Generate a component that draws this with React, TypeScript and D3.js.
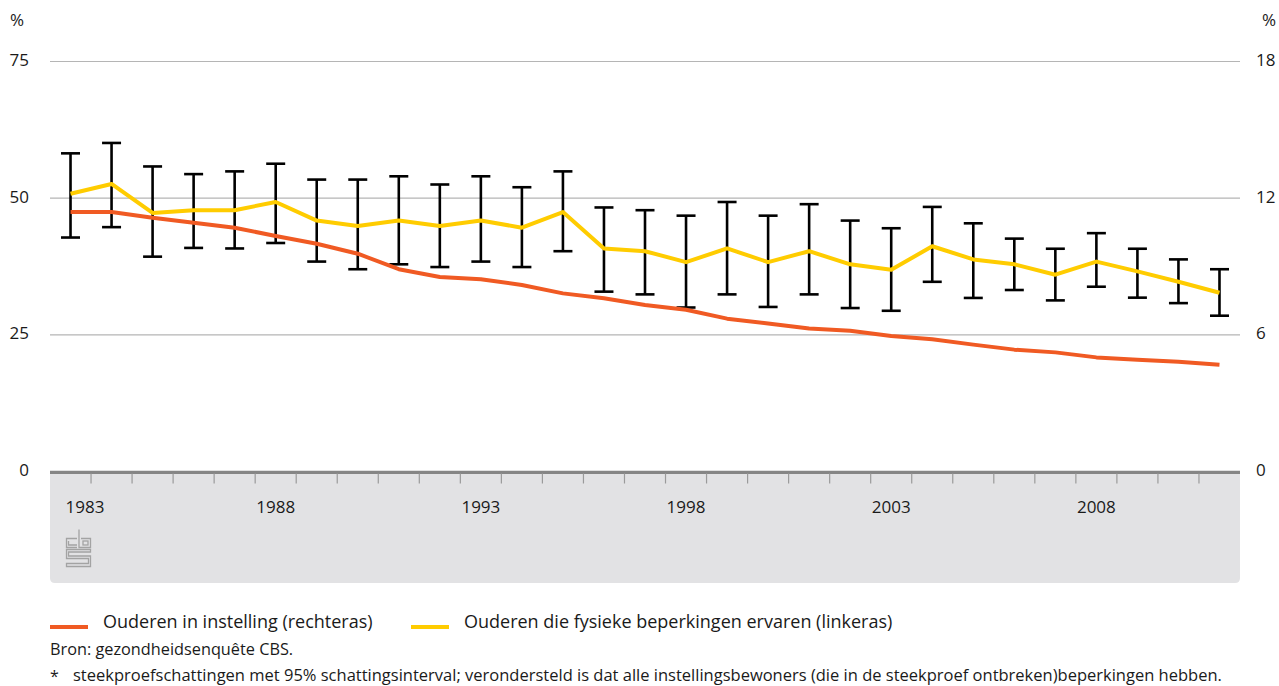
import React from "react";
import * as d3 from "d3";

const years = d3.range(1983, 2012);
const yearLabels = [1983, 1988, 1993, 1998, 2003, 2008];
const leftTicks = [0, 25, 50, 75];
const rightTicks = [0, 6, 12, 18];

// Ouderen die fysieke beperkingen ervaren (linkeras), %
const limited = [50.8, 52.6, 47.3, 47.8, 47.8, 49.3, 45.9, 44.9, 45.9, 44.9, 45.9, 44.6, 47.45, 40.8, 40.3, 38.3, 40.8, 38.3, 40.3, 37.9, 36.9, 41.2, 38.8, 37.9, 36.0, 38.4, 36.6, 34.7, 32.7];
const limitedUpper = [58.2, 60.1, 55.8, 54.4, 54.9, 56.3, 53.4, 53.4, 54.0, 52.5, 54.0, 52.0, 54.9, 48.3, 47.8, 46.8, 49.3, 46.8, 48.9, 45.9, 44.5, 48.4, 45.4, 42.6, 40.75, 43.6, 40.75, 38.8, 37.0];
const limitedLower = [42.8, 44.7, 39.3, 40.9, 40.8, 41.8, 38.4, 37.0, 37.9, 37.4, 38.4, 37.4, 40.3, 32.9, 32.4, 30.0, 32.4, 30.1, 32.4, 29.9, 29.4, 34.7, 31.75, 33.2, 31.3, 33.8, 31.8, 30.8, 28.5];
// Ouderen in instelling (rechteras), %
const institution = [11.39, 11.39, 11.14, 10.92, 10.7, 10.34, 10.0, 9.56, 8.88, 8.54, 8.44, 8.19, 7.82, 7.61, 7.31, 7.1, 6.71, 6.5, 6.28, 6.18, 5.95, 5.81, 5.57, 5.35, 5.23, 5.01, 4.91, 4.82, 4.69];

const legendItems = [
  { label: "Ouderen in instelling (rechteras)", color: "#F05A23" },
  { label: "Ouderen die fysieke beperkingen ervaren (linkeras)", color: "#FFCC00" },
];
const sourceText = "Bron: gezondheidsenquête CBS.";
const noteText = "steekproefschattingen met 95% schattingsinterval; verondersteld is dat alle instellingsbewoners (die in de steekproef ontbreken)beperkingen hebben.";

const W = 1279;
const H = 686;
const L = 50;
const R = 1240;
const TOP = 61.5;
const BOT = 471.5;
const FONT = "'Open Sans', 'Noto Sans', sans-serif";
const TXT = "#1a1a1a";

export default function App() {
  const x = d3.scaleBand<number>().domain(years).range([L, R]).paddingInner(0).paddingOuter(0);
  const cx = (yr: number) => (x(yr) as number) + x.bandwidth() / 2;
  const yL = d3.scaleLinear().domain([0, 75]).range([BOT, TOP]);
  const yR = d3.scaleLinear().domain([0, 18]).range([BOT, TOP]);

  const lineL = d3.line<number>().x((_, i) => cx(years[i])).y((d) => yL(d));
  const lineR = d3.line<number>().x((_, i) => cx(years[i])).y((d) => yR(d));

  const boxBottom = 583;
  const rr = 5;
  const boxPath = `M${L},${BOT}H${R}V${boxBottom - rr}Q${R},${boxBottom} ${R - rr},${boxBottom}H${L + rr}Q${L},${boxBottom} ${L},${boxBottom - rr}Z`;

  return (
    <svg width={W} height={H} style={{ position: "absolute", left: 0, top: 0, background: "#fff" }} fontFamily={FONT}>
      {/* grey x-axis panel */}
      <path d={boxPath} fill="#e2e2e4" />
      {/* grid lines */}
      {leftTicks.filter((t) => t > 0).map((t) => (
        <line key={t} x1={L} x2={R} y1={yL(t)} y2={yL(t)} stroke="#b5b5b5" strokeWidth={1.2} />
      ))}
      {/* axis line */}
      <line x1={L} x2={R} y1={BOT + 0.8} y2={BOT + 0.8} stroke="#858585" strokeWidth={3.2} />
      {/* ticks at band boundaries */}
      {years.slice(1).map((yr) => (
        <line key={yr} x1={x(yr) as number} x2={x(yr) as number} y1={BOT + 2} y2={BOT + 12} stroke="#9a9a9a" strokeWidth={1.2} />
      ))}
      {/* year labels */}
      {yearLabels.map((yr) => (
        <text key={yr} x={Math.max(cx(yr), L + 35)} y={513} textAnchor="middle" fontSize={17} fill={TXT}>
          {yr}
        </text>
      ))}
      {/* CBS logo */}
      <g fill="none" stroke="#a3a3a3" strokeWidth={1.3}>
        <path d="M77,538.5H66.5V547.5H77" />
        <path d="M68.5,541V545H77" />
        <path d="M79,529.5V547.5H90.5V538.5H81" />
        <rect x={83} y={541} width={5} height={4} />
        <path d="M90.5,549.5H66.5V558.5H88.5V563.5H66.5V566.5H90.5V556H68.5V552H90.5Z" />
      </g>
      {/* left axis labels */}
      <text x={10} y={21} dominantBaseline="middle" fontSize={17} fill={TXT}>%</text>
      {leftTicks.map((t) => (
        <text key={t} x={29} y={yL(t)} textAnchor="end" dominantBaseline="middle" fontSize={17} fill={TXT}>
          {t}
        </text>
      ))}
      {/* right axis labels */}
      <text x={1262} y={21} dominantBaseline="middle" fontSize={17} fill={TXT}>%</text>
      {rightTicks.map((t) => (
        <text key={t} x={1256} y={yR(t)} dominantBaseline="middle" fontSize={17} fill={TXT}>
          {t}
        </text>
      ))}
      {/* error bars */}
      <g stroke="#000" strokeWidth={2.6}>
        {years.map((yr, i) => {
          const c = cx(yr);
          const t = yL(limitedUpper[i]);
          const b = yL(limitedLower[i]);
          return (
            <g key={yr}>
              <line x1={c} x2={c} y1={t} y2={b} />
              <line x1={c - 9.5} x2={c + 9.5} y1={t} y2={t} />
              <line x1={c - 9.5} x2={c + 9.5} y1={b} y2={b} />
            </g>
          );
        })}
      </g>
      {/* lines */}
      <path d={lineR(institution) as string} fill="none" stroke={legendItems[0].color} strokeWidth={4} strokeLinejoin="round" />
      <path d={lineL(limited) as string} fill="none" stroke={legendItems[1].color} strokeWidth={4} strokeLinejoin="round" />
      {/* legend */}
      {legendItems.map((it, i) => {
        const x0 = i === 0 ? 50 : 411;
        return (
          <g key={it.label}>
            <line x1={x0} x2={x0 + 38} y1={627} y2={627} stroke={it.color} strokeWidth={4} />
            <text x={x0 + 53} y={623} dominantBaseline="middle" fontSize={18} fill={TXT}>
              {it.label}
            </text>
          </g>
        );
      })}
      <text x={50} y={651} dominantBaseline="middle" fontSize={16.3} fill={TXT}>{sourceText}</text>
      <text x={50} y={678} dominantBaseline="middle" fontSize={16} fill={TXT}>*</text>
      <text x={73} y={677} dominantBaseline="middle" fontSize={16.5} fill={TXT}>{noteText}</text>
    </svg>
  );
}
